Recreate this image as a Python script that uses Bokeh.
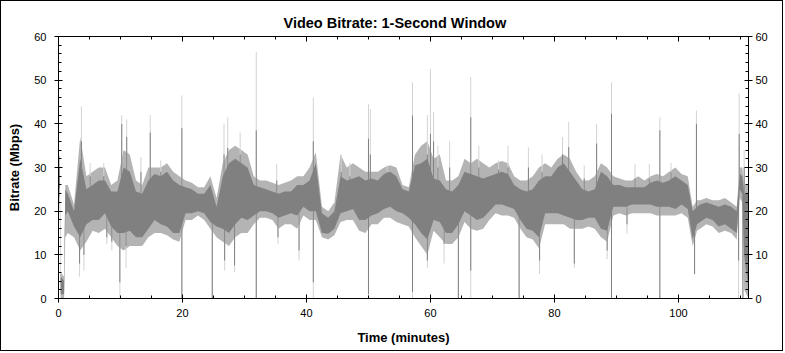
import numpy as np
from bokeh.plotting import figure
from bokeh.models import Range1d, LinearAxis, SingleIntervalTicker
from bokeh.embed import file_html
from bokeh.resources import INLINE

# ---- data (minutes, Mbps) ----
band_t = [0.0, 0.2, 0.35, 0.9, 1.1, 1.5, 2.5, 3.5, 4.5, 5.5, 6.5, 7.5, 8.5, 9.5, 10.5, 11.5, 12.5, 13.5,
          14.5, 15.5, 16.5, 17.5, 18.5, 19.5, 20.5, 21.5, 22.5, 23.5, 24.5, 25.5, 26.5, 27.5, 28.5, 29.5,
          30.5, 31.5, 32.5, 33.5, 34.5, 35.5, 36.5, 37.5, 38.5, 39.5, 40.5, 41.5, 42.5, 43.5, 44.5, 45.5,
          46.5, 47.5, 48.5, 49.5, 50.5, 51.5, 52.5, 53.5, 54.5, 55.5, 56.5, 57.5, 58.5, 59.5, 60.5, 61.5,
          62.5, 63.5, 64.5, 65.5, 66.5, 67.5, 68.5, 69.5, 70.5, 71.5, 72.5, 73.5, 74.5, 75.5, 76.5, 77.5,
          78.5, 79.5, 80.5, 81.5, 82.5, 83.5, 84.5, 85.5, 86.5, 87.5, 88.5, 89.5, 90.5, 91.5, 92.5, 93.5,
          94.5, 95.5, 96.5, 97.5, 98.5, 99.5, 100.5, 101.5, 102.3, 103.0, 103.5, 104.5, 105.5, 106.5,
          107.5, 108.5, 109.4, 109.9, 110.3, 110.6, 111.3]
core_low = [26, 25, 1, 1, 19, 20, 16.5, 14, 17, 18, 18, 19.5, 16.5, 15, 15, 15.5, 14, 14,
            16, 18, 17, 16.5, 15, 15, 19.5, 19.5, 20, 19.5, 17.5, 16.5, 16, 15, 17, 18.5,
            18, 19, 20, 20, 19.5, 18.5, 19, 19.5, 19, 21, 20, 20, 15, 14.8, 16, 19.5,
            20, 20.5, 18, 18, 19, 19.5, 20.5, 21, 20, 19.5, 18.5, 17, 15, 13.5, 18, 17.5,
            15, 15, 17, 20, 19, 18, 18.5, 20, 21.5, 21.5, 21, 20.5, 18, 16, 15.5, 14,
            19.5, 19.5, 19.5, 19, 18.5, 18, 18, 18.5, 18.5, 16, 15.5, 21, 21, 21, 21.5, 21.5,
            21.5, 21.5, 21, 21, 21, 20.5, 21.5, 20.5, 13.5, 17, 17.5, 18.5, 18, 16.5,
            17, 16, 15, 25, 24, 10, 2]
core_high = [30, 30, 5, 4, 25, 24, 20, 32, 25, 26, 27, 27, 24.5, 24.5, 30, 29, 24.5, 24,
             27, 28.5, 28, 29, 27, 26, 25.5, 25, 24, 24, 26, 21, 28, 31, 32, 31,
             30, 26, 25.5, 25, 24.5, 24, 24.5, 24.5, 26, 26, 27, 31, 19.5, 18.5, 20, 28,
             27, 27.5, 28, 27, 27.5, 27, 28.5, 29, 28, 25, 24.5, 30.5, 31, 32, 27.5, 27,
             25, 24.5, 26, 29, 28.5, 28, 27.5, 28, 28.5, 29, 28.5, 26, 25, 24.5, 25, 27,
             28, 28, 30, 31, 29, 27, 25, 24.5, 25, 29, 28, 26, 26, 25.5, 25.5, 25.5,
             25.5, 26.5, 27, 26.5, 27, 28, 27, 26, 20, 21, 21.5, 22, 21.5, 21,
             21.5, 21, 20, 28.5, 28, 24, 24]
outer_low = [24, 23, 0, 0, 14, 15, 14, 11, 13, 15.5, 15, 16, 14, 12, 11, 12, 12, 12,
             14, 15, 15, 14.5, 13.5, 13, 18, 18, 19, 18, 16, 14, 13, 12, 14, 15,
             15, 17, 18.5, 18.5, 18, 16, 17, 17, 16, 19, 18, 18, 14, 13.5, 14.5, 17.5,
             18, 18, 15.5, 15, 17, 17, 18.5, 18.5, 17.5, 17, 16.5, 14, 12, 10, 15.5, 14,
             12.5, 12.5, 14, 17.5, 16, 15.5, 16, 18, 19.5, 19, 19, 18.5, 16, 14, 13.5, 11.5,
             17, 17, 17, 17, 16, 16, 16, 16.5, 16, 14, 13, 19, 19.5, 19, 19.5, 19.5,
             19.5, 19.5, 19, 19, 19, 19, 19.5, 18.5, 12, 15.5, 16, 17, 16.5, 15,
             15.5, 15, 13.5, 23, 22, 2, 0]
outer_high = [32, 33, 6, 5, 26, 26, 21.5, 37, 28, 29, 30, 30, 26, 27, 34, 33, 27, 26,
              30, 30, 30, 31, 29, 28, 27, 26.5, 25.5, 25.5, 28, 23, 31, 34, 35, 34,
              33, 28, 27, 27, 26.5, 26, 26.5, 27, 28, 28, 30, 33.5, 21, 20, 22, 33,
              30, 31, 30, 29, 29, 29, 30, 30.5, 30, 26, 25.5, 33, 35, 36, 32, 33,
              27, 27, 28, 32, 31, 32, 31, 30, 31, 31.5, 31, 28, 27, 27, 28, 30,
              31, 30, 32, 33, 32, 29, 27, 27, 28, 31, 30, 28, 27.5, 27, 27, 28,
              27, 28, 28.5, 28, 29, 30, 28.5, 28, 21, 22.5, 22.5, 23, 22.5, 22.5,
              23, 22, 21, 30, 30, 26, 26]

# single-second peaks: time, peak value, value reached by the dense core
peak_t = [3.7, 5.1, 7.3, 10.2, 11.0, 13.3, 14.8, 16.5, 19.9, 26.7, 27.3, 29.3, 31.9, 35.2, 41.1,
          45.6, 47.0, 50.0, 50.3, 53.0, 57.1, 59.5, 60.0, 60.5, 61.2, 63.1, 66.5, 67.8, 71.0,
          72.5, 75.8, 78.0, 81.3, 82.3, 84.8, 86.8, 89.2, 93.0, 95.3, 97.0, 98.8, 102.9,
          109.8, 110.6]
peak_val = [44, 31, 31, 42, 41, 32.4, 42, 31.6, 46.5, 40, 41.5, 38, 56.5, 30.8, 46,
            33, 31, 44.5, 43.4, 30.5, 49.5, 42, 52.6, 42.7, 35, 36, 50.7, 35, 31.6,
            35, 34.6, 33, 37, 40.4, 30.5, 40, 49.5, 30.8, 30.8, 41.5, 31, 43,
            46.9, 34]
peak_core = [36, 28, 28, 40, 37, 29, 38, 29, 39, 33, 34.5, 33, 38.5, 27, 36,
             29, 28, 36.6, 33, 29, 41.9, 33, 37.7, 36, 30, 30, 41.5, 30, 29.5,
             30, 30, 29, 33, 34.7, 27.5, 35.5, 42.3, 27.5, 27.5, 38.5, 29, 40,
             37.7, 30]

# single-second drops: time, lowest value, value reached by the dense core
dip_t = [3.4, 4.1, 7.8, 8.6, 9.9, 10.9, 19.9, 24.8, 26.8, 28.4, 31.9, 35.4, 38.8, 41.1, 50.0,
         57.1, 59.5, 62.2, 64.5, 66.5, 74.3, 77.6, 83.2, 88.5, 89.2, 91.7, 97.0, 102.6,
         109.7, 110.4]
dip_val = [5, 6.4, 12.5, 11, 0.3, 7, 0, 0, 6.4, 6, 0, 12.5, 8.7, 0, 0,
           0, 7, 8, 0, 0, 0, 5.6, 7, 9, 0, 14.8, 0, 5.6,
           0, 0]
dip_core = [8, 10, 14, 13, 3.7, 12, 0, 0, 8.7, 7.6, 0, 14, 11, 3.7, 1,
            1.5, 8.7, 12.5, 0, 6.4, 0, 8.7, 8, 11, 0, 17, 0, 5.6,
            8.7, 0]

title_text = "Video Bitrate: 1-Second Window"
x_label = "Time (minutes)"
y_label = "Bitrate (Mbps)"

DARK = "#808080"
FRINGE = "#b4b4b4"
LIGHT = "#d3d3d3"
FONT = "Liberation Sans"

p = figure(width=783, height=351, output_backend="svg", toolbar_location=None,
           x_range=Range1d(0, 111.3), y_range=Range1d(0, 60),
           min_border_left=57, min_border_right=36, min_border_top=35, min_border_bottom=54,
           x_axis_location=None, y_axis_location=None, title=title_text)
p.styles = {"border": "1px solid black"}
p.xgrid.visible = False
p.ygrid.visible = False
p.background_fill_color = "white"
p.border_fill_color = "white"
p.outline_line_color = "black"

p.title.align = "left"
p.title.offset = 225
p.title.text_font = FONT
p.title.text_font_size = "14.5px"
p.title.text_font_style = "bold"
p.title.text_color = "black"
p.title.standoff = 12

bt = np.array(band_t)
mid = (np.array(core_low) + np.array(core_high)) / 2.0
pk_base = np.interp(peak_t, bt, mid)
dp_base = np.interp(dip_t, bt, mid)

p.varea(x=band_t, y1=outer_low, y2=outer_high, color=FRINGE)
p.segment(x0=peak_t, y0=pk_base, x1=peak_t, y1=peak_val, line_color=LIGHT, line_width=1)
p.segment(x0=dip_t, y0=dp_base, x1=dip_t, y1=dip_val, line_color=LIGHT, line_width=1)
p.varea(x=band_t, y1=core_low, y2=core_high, color=DARK)
p.segment(x0=peak_t, y0=pk_base, x1=peak_t, y1=peak_core, line_color=DARK, line_width=1)
p.segment(x0=dip_t, y0=dp_base, x1=dip_t, y1=dip_core, line_color=DARK, line_width=1)


def style(ax, label_size="11px"):
    ax.axis_line_color = "black"
    ax.major_tick_line_color = "black"
    ax.minor_tick_line_color = "black"
    ax.major_label_text_font = FONT
    ax.major_label_text_font_size = label_size
    ax.major_label_text_color = "black"
    ax.axis_label_text_font = FONT
    ax.axis_label_text_font_size = "13px"
    ax.axis_label_text_font_style = "bold"
    ax.axis_label_text_color = "black"


bottom = LinearAxis(ticker=SingleIntervalTicker(interval=20, num_minor_ticks=4), axis_label=x_label)
style(bottom)
bottom.major_tick_in = 4
bottom.major_tick_out = 4
bottom.minor_tick_in = 3
bottom.minor_tick_out = 0
bottom.major_label_standoff = 6
bottom.axis_label_standoff = 10
p.add_layout(bottom, "below")

top = LinearAxis(ticker=SingleIntervalTicker(interval=20, num_minor_ticks=4))
style(top)
top.major_tick_in = 5
top.major_tick_out = 0
top.minor_tick_in = 3
top.minor_tick_out = 0
top.major_label_text_font_size = "1px"
top.major_label_text_color = None
top.major_label_standoff = 0
p.add_layout(top, "above")

left = LinearAxis(ticker=SingleIntervalTicker(interval=10, num_minor_ticks=5), axis_label=y_label)
style(left)
left.major_tick_in = 4
left.major_tick_out = 4
left.minor_tick_in = 3
left.minor_tick_out = 0
left.major_label_standoff = 8
left.axis_label_standoff = 9
p.add_layout(left, "left")

right = LinearAxis(ticker=SingleIntervalTicker(interval=10, num_minor_ticks=5))
style(right)
right.major_tick_in = 4
right.major_tick_out = 4
right.minor_tick_in = 3
right.minor_tick_out = 0
right.major_label_standoff = 3
p.add_layout(right, "right")

open("out.html", "w").write(file_html(p, INLINE))
